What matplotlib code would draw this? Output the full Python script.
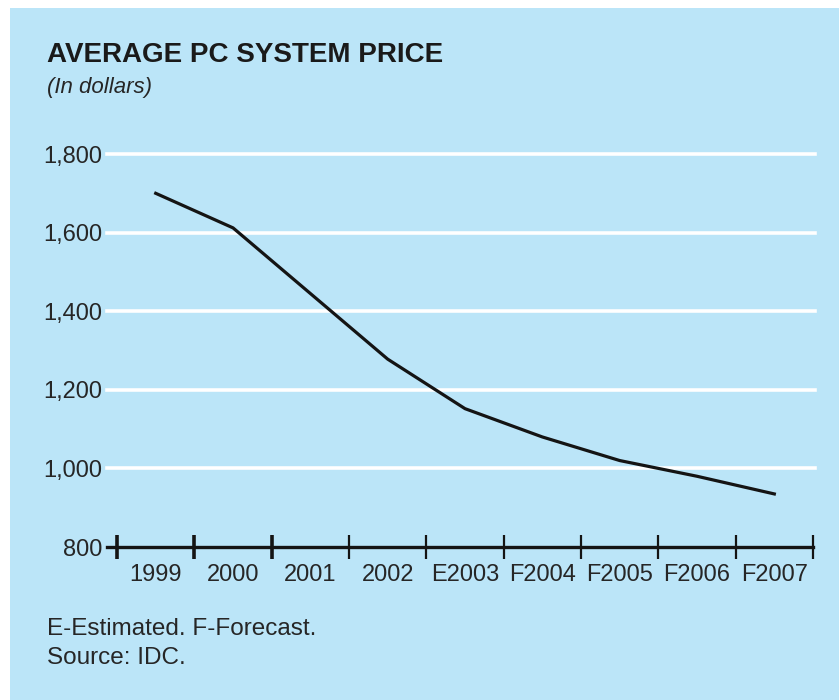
import matplotlib.pyplot as plt
from matplotlib.patches import Rectangle

# data
years = ["1999", "2000", "2001", "2002", "E2003", "F2004", "F2005", "F2006", "F2007"]
prices = [1700, 1612, 1445, 1278, 1152, 1080, 1020, 980, 935]
y_ticks = [800, 1000, 1200, 1400, 1600, 1800]

BG = "#bbe5f8"
W, H = 839, 700

plt.rcParams["font.family"] = ["Liberation Sans", "DejaVu Sans"]

fig = plt.figure(figsize=(W / 100, H / 100), dpi=100, facecolor="white")
fig.patches.append(Rectangle((10 / W, 0), 1, 1 - 8 / H, transform=fig.transFigure,
                             facecolor=BG, edgecolor="none", zorder=-5))

left, right, top, bottom = 107, 815, 154, 547
ax = fig.add_axes([left / W, 1 - bottom / H, (right - left) / W, (bottom - top) / H])
ax.set_facecolor("none")
ax.set_zorder(2)

x = list(range(len(years)))
ax.plot(x, prices, color="#141414", linewidth=2.3, solid_joinstyle="round", zorder=3)

for v in y_ticks[1:]:
    ax.axhline(v, color="white", linewidth=2.6, clip_on=False, zorder=1)

ax.set_ylim(800, 1800)
ax.set_xlim(-0.63, 8.526)
ax.set_yticks(y_ticks)
ax.set_yticklabels([f"{v:,}" for v in y_ticks], fontsize=17, color="#262626")
ax.tick_params(axis="y", length=0, pad=3.5)

# boundary ticks on x axis, labels centred in categories
ax.set_xticks([i - 0.5 for i in range(len(years) + 1)])
ax.set_xticklabels([])
ax.set_xticks(x, minor=True)
ax.set_xticklabels(years, minor=True, fontsize=17, color="#262626")
ax.tick_params(axis="x", which="major", direction="inout", length=17, width=1.6, color="#141414")
ax.tick_params(axis="x", which="minor", length=0, pad=12.5)
for t in ax.xaxis.get_major_ticks()[:3]:
    t.tick1line.set_markeredgewidth(2.6)

for s in ["top", "right", "left"]:
    ax.spines[s].set_visible(False)
ax.spines["bottom"].set_linewidth(2.4)
ax.spines["bottom"].set_color("#141414")
ax.spines["bottom"].set_bounds(-0.63, len(years) - 0.5)

fig.text(47 / W, 1 - 62 / H, "AVERAGE PC SYSTEM PRICE", fontsize=20, fontweight="bold",
         color="#1a1a1a", va="baseline")
fig.text(47 / W, 1 - 87 / H, "(In dollars)", fontsize=16, style="italic", color="#262626", va="center")
fig.text(47 / W, 1 - 629 / H, "E-Estimated. F-Forecast.", fontsize=17.5, color="#262626", va="center")
fig.text(47 / W, 1 - 658 / H, "Source: IDC.", fontsize=17.5, color="#262626", va="center")

fig.savefig("out.png", dpi=100, facecolor="white")
